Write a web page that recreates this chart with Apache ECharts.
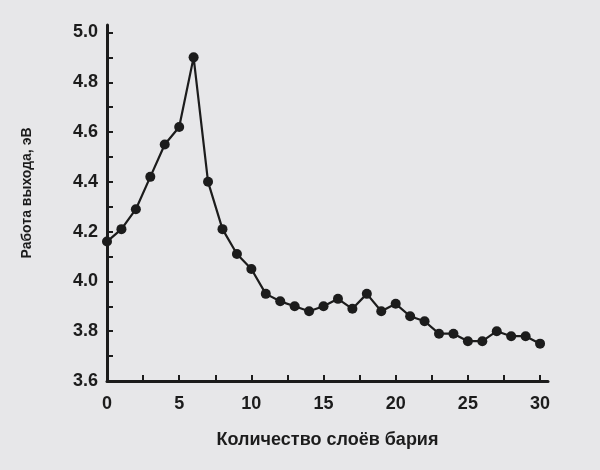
<!DOCTYPE html>
<html>
<head>
<meta charset="utf-8">
<script src="https://cdn.jsdelivr.net/npm/echarts@6/dist/echarts.min.js"></script>
<style>
  html, body { margin: 0; padding: 0; background: #e7e7e9; }
  #main { width: 600px; height: 470px; }
</style>
</head>
<body>
<div id="main"></div>
<script>
// число слоёв бария и работа выхода (эВ)
var layers = [0, 1, 2, 3, 4, 5, 6, 7, 8, 9, 10, 11, 12, 13, 14, 15,
              16, 17, 18, 19, 20, 21, 22, 23, 24, 25, 26, 27, 28, 29, 30];
var workFunction = [4.16, 4.21, 4.29, 4.42, 4.55, 4.62, 4.90, 4.40, 4.21, 4.11, 4.05,
                    3.95, 3.92, 3.90, 3.88, 3.90, 3.93, 3.89, 3.95, 3.88, 3.91,
                    3.86, 3.84, 3.79, 3.79, 3.76, 3.76, 3.80, 3.78, 3.78, 3.75];
var xLabels = [0, 5, 10, 15, 20, 25, 30];
var xTicks = [2.5, 5, 7.5, 10, 12.5, 15, 17.5, 20, 22.5, 25, 27.5, 30];
var yLabels = [3.6, 3.8, 4.0, 4.2, 4.4, 4.6, 4.8, 5.0];
var yTicks = [3.7, 3.8, 3.9, 4.0, 4.1, 4.2, 4.3, 4.4, 4.5, 4.6, 4.7, 4.8, 4.9, 5.0];

var myChart = echarts.init(document.getElementById('main'));
var font = '"Liberation Sans", Arial, sans-serif';
var ink = '#1c1c1c';

var points = layers.map(function (x, i) { return [x, workFunction[i]]; });

var option = {
    backgroundColor: '#e7e7e9',
    animation: false,
    grid: {
        left: 107,
        right: 52,
        top: 25,
        bottom: 89
    },
    xAxis: {
        type: 'value',
        min: 0,
        max: 30.55,
        name: 'Количество слоёв бария',
        nameLocation: 'middle',
        nameGap: 50,
        nameTextStyle: { color: ink, fontFamily: font, fontWeight: 'bold', fontSize: 18 },
        axisLine: { lineStyle: { color: ink, width: 3 } },
        axisTick: { inside: true, length: 6, customValues: xTicks, lineStyle: { color: ink, width: 2 } },
        axisLabel: {
            customValues: xLabels,
            margin: 14,
            color: ink,
            fontFamily: font,
            fontWeight: 'bold',
            fontSize: 18
        },
        splitLine: { show: false }
    },
    yAxis: {
        type: 'value',
        min: 3.6,
        max: 5.03,
        name: 'Работа выхода, эВ',
        nameLocation: 'middle',
        nameGap: 73,
        nameRotate: 90,
        nameTextStyle: { color: ink, fontFamily: font, fontWeight: 'bold', fontSize: 14, padding: [0, 0, 0, 20] },
        axisLine: { show: true, lineStyle: { color: ink, width: 3 } },
        axisTick: { show: true, inside: true, length: 6, customValues: yTicks, lineStyle: { color: ink, width: 2 } },
        axisLabel: {
            customValues: yLabels,
            margin: 9,
            color: ink,
            fontFamily: font,
            fontWeight: 'bold',
            fontSize: 18,
            formatter: function (v) { return v.toFixed(1); }
        },
        splitLine: { show: false }
    },
    series: [{
        type: 'line',
        data: points,
        symbol: 'circle',
        symbolSize: 10,
        lineStyle: { color: ink, width: 2.2 },
        itemStyle: { color: ink }
    }]
};

myChart.setOption(option);
</script>
</body>
</html>
